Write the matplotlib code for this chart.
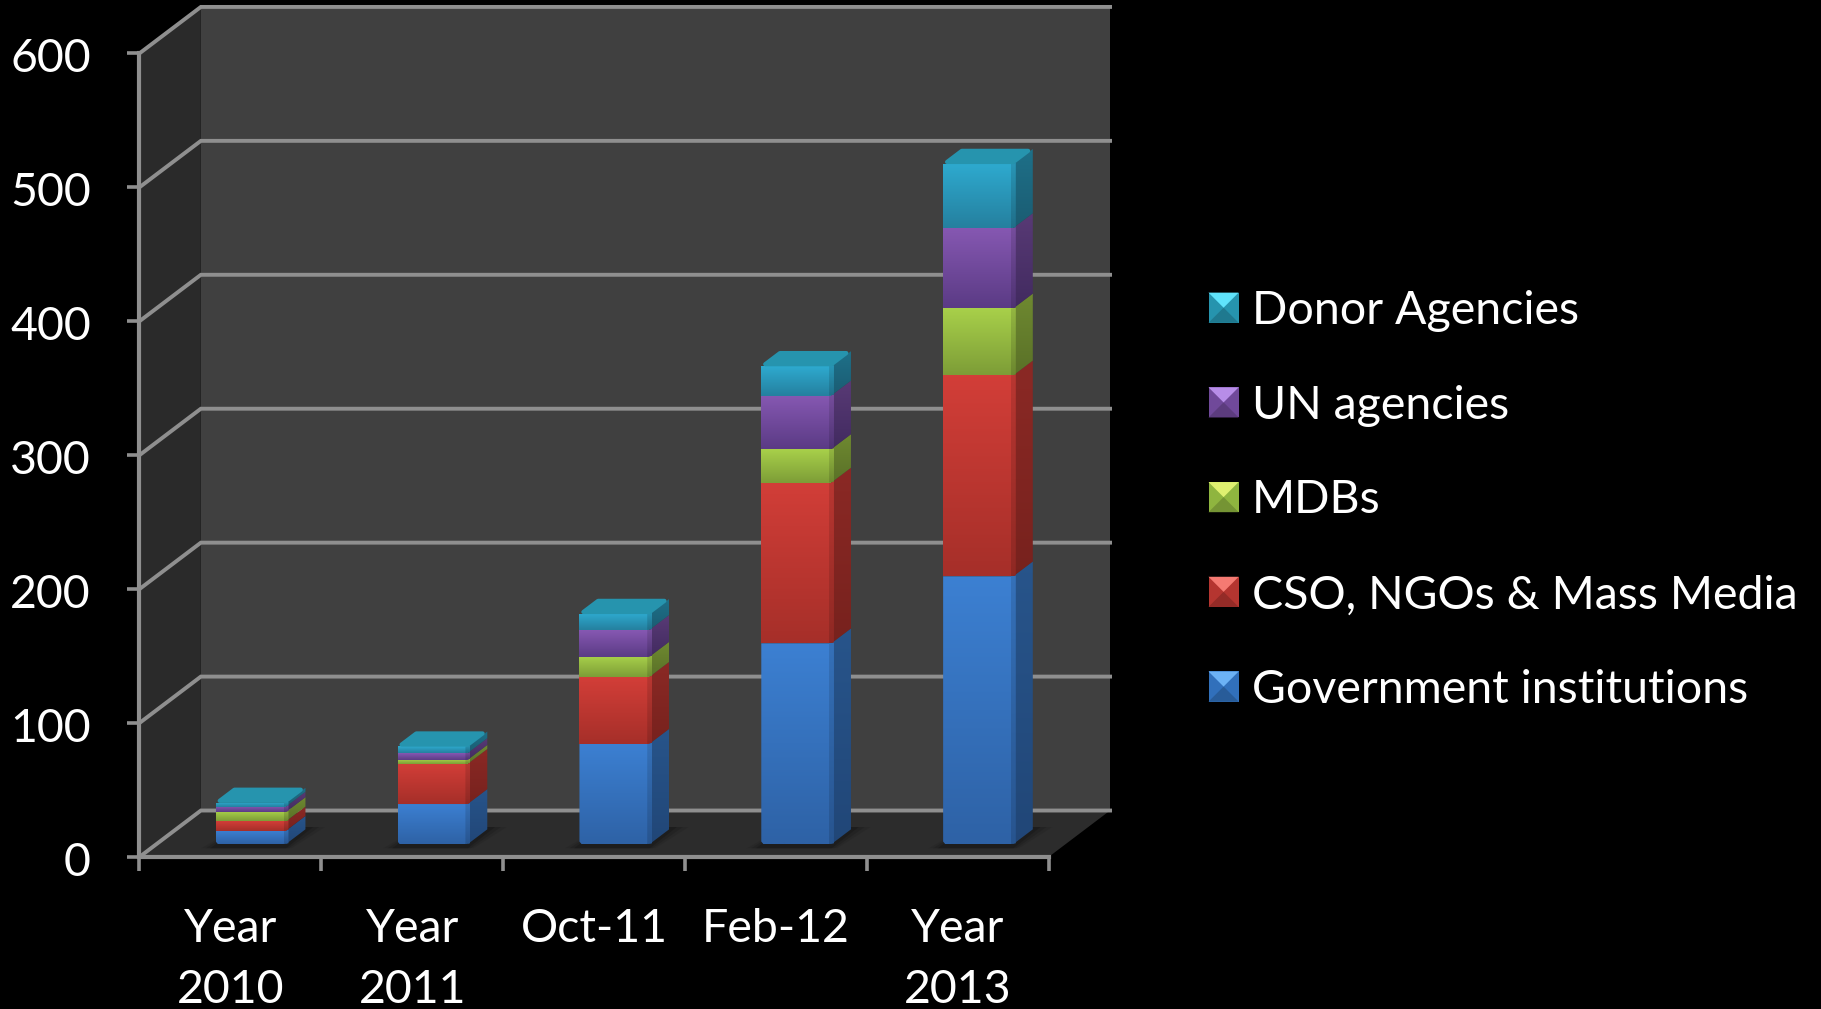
import numpy as np
import matplotlib
matplotlib.use('Agg')
import matplotlib.pyplot as plt
from matplotlib.patches import Polygon
from matplotlib.legend_handler import HandlerBase
from matplotlib.transforms import ScaledTranslation

categories = ['Year\n2010', 'Year\n2011', 'Oct-11', 'Feb-12', 'Year\n2013']
government = [10, 30, 75, 150, 200]
cso = [7, 30, 50, 120, 150]
mdbs = [7, 3, 15, 25, 50]
un = [4, 5, 20, 40, 60]
donors = [3, 5, 12, 22, 48]
series_names = ['Government institutions', 'CSO, NGOs & Mass Media', 'MDBs', 'UN agencies', 'Donor Agencies']
yticks = [0, 100, 200, 300, 400, 500, 600]

series = [government, cso, mdbs, un, donors]
tops = ['#3c80d2', '#d23e38', '#a8d04a', '#8658b2', '#2eaacf']
bottoms = ['#2e62a6', '#a62f29', '#7d9d37', '#5b3b85', '#25809f']
caps = ['#3170bb', '#b53530', '#8fb53f', '#70499a', '#2694ae']
light = ['#6cb2f5', '#f57a72', '#dff070', '#b78de8', '#5fe3fb']

grid_col = '#8f8f8f'
# the fake 3d depth, in data units
DX = 0.338
DY = 34.7
BAR_LEFT = 0.327
BAR_W = 0.385
D0 = 0.275
D1 = 0.595


def proj(x, y, d):
    return (x + d * DX, y + d * DY)


def scale(c, f):
    rgb = np.array(matplotlib.colors.to_rgb(c)) * f
    return tuple(np.clip(rgb, 0, 1))


def shade(ax, verts, c1, c2, z):
    # polygon filled with a top to bottom gradient
    verts = np.array(verts)
    p = Polygon(verts, closed=True, transform=ax.transData, fc='none', ec='none')
    ax.add_patch(p)
    grad = np.linspace(0, 1, 64)[:, None]
    img = (1 - grad) * np.array(matplotlib.colors.to_rgb(c1)) + grad * np.array(matplotlib.colors.to_rgb(c2))
    img = img.reshape(64, 1, 3)
    im = ax.imshow(img, extent=(verts[:, 0].min(), verts[:, 0].max(), verts[:, 1].min(), verts[:, 1].max()),
                   aspect='auto', origin='upper', zorder=z, interpolation='bilinear')
    im.set_clip_path(p)


class BevelHandler(HandlerBase):
    # legend swatch: small square with bevelled triangles
    def create_artists(self, legend, orig, xd, yd, w, h, fontsize, trans):
        s = h
        x0 = -xd
        y0 = -yd
        top, base = orig.light, orig.base
        m = (x0 + s / 2, y0 + s / 2)
        a, b, cc, d = (x0, y0 + s), (x0 + s, y0 + s), (x0 + s, y0), (x0, y0)
        arts = [
            Polygon([a, b, cc, d], closed=True, fc=base, ec='none', transform=trans),
            Polygon([d, cc, m], closed=True, fc=scale(base, 0.82), ec='none', transform=trans),
            Polygon([a, b, m], closed=True, fc=top, ec='none', transform=trans),
        ]
        return arts


plt.rcParams['font.family'] = ['Lato', 'DejaVu Sans']
fig = plt.figure(figsize=(18.21, 10.09), dpi=100, facecolor='black')
ax = fig.add_axes([139.4 / 1821, (1009 - 857) / 1009, (1048.6 - 139.4) / 1821, (857 - 53.4) / 1009])
ax.patch.set_visible(False)

n = len(categories)
ymax = yticks[-1]

# walls and floor
ax.add_patch(Polygon([proj(0, 0, 1), proj(n, 0, 1), proj(n, ymax, 1), proj(0, ymax, 1)],
                     fc='#404040', ec='none', zorder=1, clip_on=False))
ax.add_patch(Polygon([proj(0, 0, 0), proj(0, 0, 1), proj(0, ymax, 1), proj(0, ymax, 0)],
                     fc='#2a2a2a', ec='none', zorder=1, clip_on=False))
ax.add_patch(Polygon([proj(0, 0, 0), proj(n, 0, 0), proj(n, 0, 1), proj(0, 0, 1)],
                     fc='#2c2c2c', ec='none', zorder=1.1, clip_on=False))

for v in yticks:
    xs = [proj(0, v, 0)[0], proj(0, v, 1)[0], proj(n, v, 1)[0]]
    ys = [proj(0, v, 0)[1], proj(0, v, 1)[1], proj(n, v, 1)[1]]
    ax.plot(xs, ys, color=grid_col, lw=2.8, clip_on=False, zorder=1.5, solid_joinstyle='miter')

# bars
for i in range(n):
    xl = i + BAR_LEFT
    xr = xl + BAR_W
    # soft shadow on the floor
    for grow, al in [(0.07, 0.12), (0.045, 0.2), (0.02, 0.3)]:
        ax.add_patch(Polygon([proj(xl - grow, -2, D0 - 0.03), proj(xr + grow * 0.6, -2, D0 - 0.03),
                              proj(xr + grow * 1.3, 0, D1 + 0.05), proj(xl, 0, D1 + 0.05)],
                             fc='#111111', alpha=al, ec='none', zorder=2, clip_on=False))
    base = 0
    for k in range(len(series)):
        v0 = base
        v1 = base + series[k][i]
        # right hand face
        side = [proj(xr, v0, D0), proj(xr, v0, D1), proj(xr, v1, D1), proj(xr, v1, D0)]
        shade(ax, side, scale(tops[k], 0.66), scale(bottoms[k], 0.72), 3 + k * 0.1)
        # front face, the lowest block gets small rounded corners
        if k == 0:
            front = [proj(xl, v0 + 2, D0), proj(xl + 0.012, v0, D0), proj(xr - 0.012, v0, D0), proj(xr, v0 + 2, D0),
                     proj(xr, v1, D0), proj(xl, v1, D0)]
        else:
            front = [proj(xl, v0, D0), proj(xr, v0, D0), proj(xr, v1, D0), proj(xl, v1, D0)]
        shade(ax, front, tops[k], bottoms[k], 3.02 + k * 0.1)
        # rounded corner between the two faces
        edge = [proj(xr - 0.012, v0, D0), proj(xr + 0.008, v0, D0 + 0.02), proj(xr + 0.008, v1, D0 + 0.02), proj(xr - 0.012, v1, D0)]
        shade(ax, edge, scale(tops[k], 0.88), scale(bottoms[k], 0.86), 3.04 + k * 0.1)
        base = v1
    cap = [proj(xl + 0.008, base, D0 + 0.04), proj(xr - 0.012, base, D0 + 0.04),
           proj(xr - 0.012, base, D1 - 0.04), proj(xl + 0.008, base, D1 - 0.04)]
    ax.add_patch(Polygon(cap, fc=caps[-1], ec=caps[-1], lw=3, joinstyle='round', zorder=4, clip_on=False))

ax.set_xlim(0, n)
ax.set_ylim(0, ymax)

for name in ['top', 'right']:
    ax.spines[name].set_visible(False)
for name in ['left', 'bottom']:
    ax.spines[name].set_color(grid_col)
    ax.spines[name].set_linewidth(3)
    ax.spines[name].set_zorder(2.5)

ax.set_yticks(yticks)
ax.set_yticklabels([str(v) for v in yticks], color='white', fontsize=33.5)
ax.tick_params(axis='y', length=9, width=2.6, color=grid_col, pad=24)
for lab in ax.get_yticklabels():
    lab.set_transform(lab.get_transform() + ScaledTranslation(-2 / 72, -1.5 / 72, fig.dpi_scale_trans))
ax.set_xticks(range(n + 1))
ax.set_xticklabels([])
ax.tick_params(axis='x', which='major', length=10, width=2.6, color=grid_col)
ax.set_xticks(np.arange(n) + 0.5, minor=True)
ax.set_xticklabels(categories, minor=True, color='white', fontsize=33.5, linespacing=1.56, va='top')
ax.tick_params(axis='x', which='minor', length=0, pad=36.5)

# legend
handles = []
for k in range(len(series) - 1, -1, -1):
    h = Polygon([[0, 0], [1, 0], [1, 1]], fc=tops[k], label=series_names[k])
    h.light = light[k]
    h.base = caps[k]
    handles.append(h)
leg = fig.legend(handles=handles, loc='center left', bbox_to_anchor=(1208.5 / 1821, 1 - 500.5 / 1009), frameon=False,
                 fontsize=33.5, labelcolor='white', handler_map={Polygon: BevelHandler()},
                 handlelength=0.62, handleheight=0.62, handletextpad=0.32, labelspacing=1.133, borderaxespad=0, borderpad=0)

fig.savefig('out.png', dpi=100, facecolor='black')
